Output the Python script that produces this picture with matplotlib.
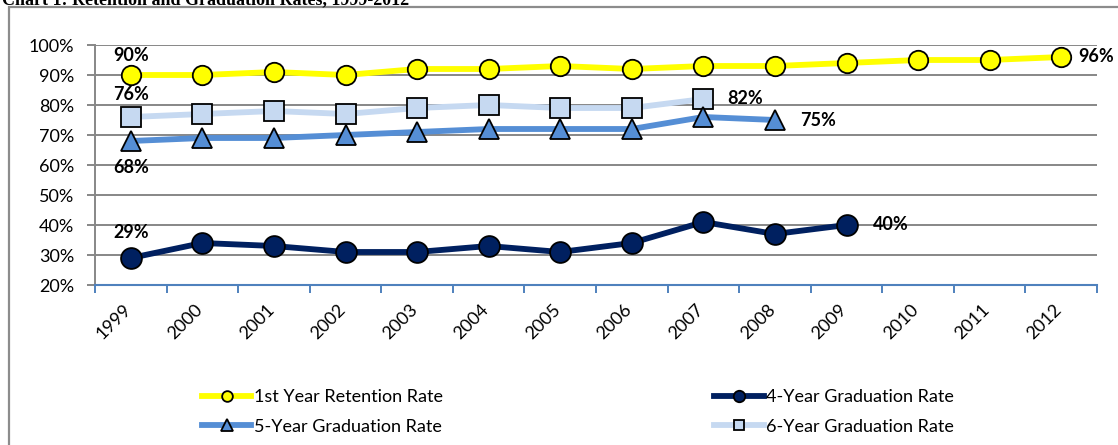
import matplotlib.pyplot as plt
import matplotlib.patches as mpatches
import matplotlib.transforms as mtransforms
from matplotlib.ticker import FuncFormatter, FixedLocator
import numpy as np

# ==========================
# DADOS
# ==========================
years = ['1999', '2000', '2001', '2002', '2003', '2004', '2005',
         '2006', '2007', '2008', '2009', '2010', '2011', '2012']
retention = [90, 90, 91, 90, 92, 92, 93, 92, 93, 93, 94, 95, 95, 96]
grad4 = [29, 34, 33, 31, 31, 33, 31, 34, 41, 37, 40]
grad5 = [68, 69, 69, 70, 71, 72, 72, 72, 76, 75]
grad6 = [76, 77, 78, 77, 79, 80, 79, 79, 82]

title = 'Chart 1: Retention and Graduation Rates, 1999-2012'

plt.rcParams['font.family'] = ['Lato', 'DejaVu Sans']

fig = plt.figure(figsize=(11.18, 4.45), dpi=100)
ax = fig.add_axes([95/1118, 160/445, (1097-95)/1118, 240/445])

x = np.arange(len(years))

l_ret, = ax.plot(x[:len(retention)], retention, color='#FFFF00', lw=4.2, marker='o',
                 ms=14, mfc='#FFFF00', mec='black', mew=1.3, zorder=4,
                 label='1st Year Retention Rate')
l_g6, = ax.plot(x[:len(grad6)], grad6, color='#C6D9F1', lw=4.2, marker='s',
                ms=14, mfc='#C6D9F1', mec='black', mew=1.3, zorder=3,
                label='6-Year Graduation Rate')
l_g5, = ax.plot(x[:len(grad5)], grad5, color='#558ED5', lw=4.2, marker='^',
                ms=15, mfc='#558ED5', mec='black', mew=1.3, zorder=4,
                label='5-Year Graduation Rate')
l_g4, = ax.plot(x[:len(grad4)], grad4, color='#002060', lw=4.2, marker='o',
                ms=15, mfc='#002060', mec='black', mew=1.3, zorder=4,
                label='4-Year Graduation Rate')

# rotulos de dados
lab = dict(fontsize=13, fontweight='bold', textcoords='offset points')
ax.annotate(f'{retention[0]}%', (x[0], retention[0]), xytext=(0, 8), ha='center', va='bottom', **lab)
ax.annotate(f'{retention[-1]}%', (x[len(retention)-1], retention[-1]), xytext=(12, 0), ha='left', va='center', **lab)
ax.annotate(f'{grad6[0]}%', (x[0], grad6[0]), xytext=(0, 10), ha='center', va='bottom', **lab)
ax.annotate(f'{grad6[-1]}%', (x[len(grad6)-1], grad6[-1]), xytext=(17, 0), ha='left', va='center', **lab)
ax.annotate(f'{grad5[0]}%', (x[0], grad5[0]), xytext=(0, -13), ha='center', va='top', **lab)
ax.annotate(f'{grad5[-1]}%', (x[len(grad5)-1], grad5[-1]), xytext=(18, 0), ha='left', va='center', **lab)
ax.annotate(f'{grad4[0]}%', (x[0], grad4[0]), xytext=(0, 12), ha='center', va='bottom', **lab)
ax.annotate(f'{grad4[-1]}%', (x[len(grad4)-1], grad4[-1]), xytext=(19, 0), ha='left', va='center', **lab)

# eixos
ax.set_xlim(-0.5, len(years) - 0.5)
ax.set_ylim(20, 100)
ax.set_yticks(np.arange(20, 101, 10))
ax.yaxis.set_major_formatter(FuncFormatter(lambda v, p: f'{v:.0f}%'))
ax.grid(axis='y', color='#878787', lw=1.4)
ax.set_axisbelow(True)

ax.set_xticks(x)
ax.set_xticklabels(years, rotation=45, ha='right', va='top', rotation_mode='anchor')
ax.xaxis.set_minor_locator(FixedLocator(np.arange(-0.5, len(years), 1)))
ax.tick_params(axis='x', which='major', length=0, pad=12, labelsize=13)
ax.tick_params(axis='x', which='minor', length=6, width=1.4, color='#4F81BD', direction='out')
ax.tick_params(axis='y', length=6, width=1.4, color='#878787', labelsize=13, pad=9)
shift = mtransforms.ScaledTranslation(-8/100, 0, fig.dpi_scale_trans)
for lbl in ax.get_xticklabels():
    lbl.set_transform(lbl.get_transform() + shift)

for s in ['top', 'right']:
    ax.spines[s].set_visible(False)
ax.spines['bottom'].set_color('#4F81BD')
ax.spines['bottom'].set_linewidth(1.5)
ax.spines['left'].set_color('#878787')
ax.spines['left'].set_linewidth(1.4)

# legenda
fig.legend(handles=[l_ret, l_g5, l_g4, l_g6], ncol=2, loc='center',
           bbox_to_anchor=(578/1118, 33/445), frameon=False, fontsize=13,
           handlelength=2.75, handletextpad=0.15, columnspacing=15.0,
           labelspacing=0.75, markerscale=0.55)

# borda do grafico e titulo cortado
fig.add_artist(mpatches.Rectangle((9/1118, -0.1), 1.2, 1.1 - 7/445,
                                  transform=fig.transFigure, fill=False,
                                  edgecolor='#8C8C8C', lw=1.6))
fig.text(2/1118, 1 - 4/445, title, fontsize=13, fontweight='bold',
         family='Liberation Serif', ha='left', va='baseline')

fig.savefig('out.png', dpi=100)
